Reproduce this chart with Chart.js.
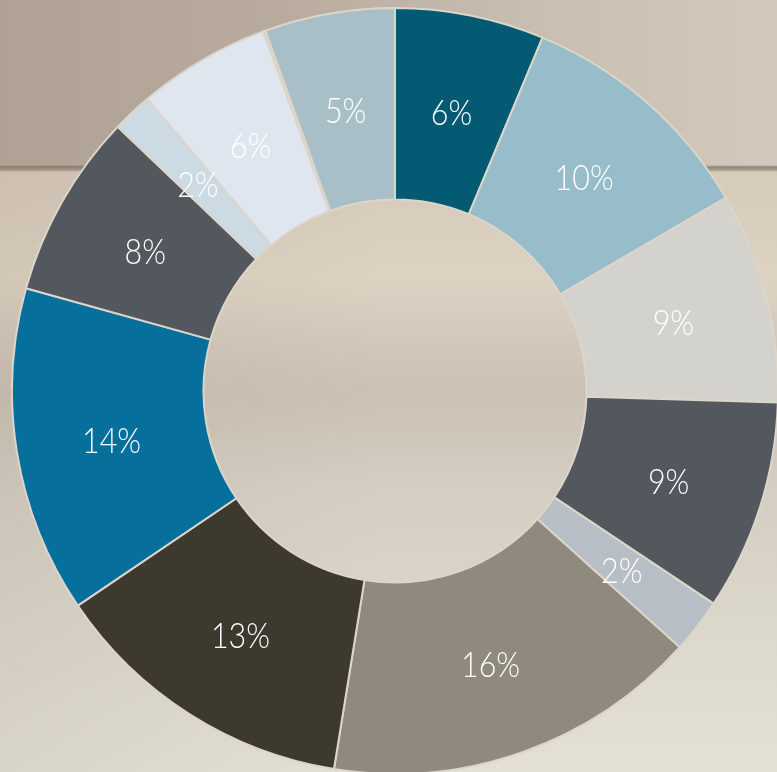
<!DOCTYPE html>
<html>
<head>
<meta charset="utf-8">
<script src="https://cdn.jsdelivr.net/npm/chart.js@4.4.1/dist/chart.umd.min.js"></script>
<style>
    html, body { margin: 0; padding: 0; width: 777px; height: 772px; overflow: hidden; }
    body {
        position: relative;
        background:
            linear-gradient(to bottom, transparent 0, transparent 165px, rgba(100, 88, 76, .6) 167px, rgba(110, 98, 86, .45) 170px, transparent 172px),
            linear-gradient(to right, #afa295 0%, #b8ab9e 35%, #c8beb1 70%, #d2c8bc 100%) 0 0 / 100% 167px no-repeat,
            linear-gradient(to right, rgba(85, 70, 55, .08) 0%, rgba(0, 0, 0, 0) 50%),
            linear-gradient(to bottom, #d6cab9 0px, #d6cab9 172px, #ddd2c2 280px, #cdc3b6 375px, #cbc1b4 395px, #d4cdc1 480px, #dcd7cb 620px, #e4e0d5 772px);
    }
    #wrap { position: absolute; left: 11px; top: 7px; width: 768px; height: 768px; }
</style>
</head>
<body>
<div id="wrap"><canvas id="chart" width="768" height="768"></canvas></div>
<script>
// slices clockwise from 12 o'clock, shares (percent)
const slices = ['S1', 'S2', 'S3', 'S4', 'S5', 'S6', 'S7', 'S8', 'S9', 'S10', 'S11', 'S12', 'S13']
const shares = [6.3, 10.3, 8.9, 8.9, 2.3, 15.9, 13.0, 13.8, 7.8, 1.7, 5.6, 0.1, 5.5]
// printed labels as shown on the chart
const shareLabels = ['6%', '10%', '9%', '9%', '2%', '16%', '13%', '14%', '8%', '2%', '6%', '', '5%']
const colors = ['#045a72', '#96bdc9', '#d4d2cd', '#52585e', '#b8bec6', '#8f897e', '#3d392f',
    '#066f9c', '#52585e', '#cbdae3', '#dfe6ef', '#d2cfc8', '#a9bfc7']

// draws the percentage text in the middle of each ring slice
// (text is squeezed a little sideways to get the narrow look of the original)
const sliceLabels = {
    id: 'sliceLabels',
    afterDatasetsDraw(chart) {
        const ctx = chart.ctx
        const arcs = chart.getDatasetMeta(0).data
        arcs.forEach((arc, i) => {
            if (!shareLabels[i]) return
            const p = arc.getProps(['x', 'y', 'startAngle', 'endAngle', 'innerRadius', 'outerRadius'], true)
            const mid = (p.startAngle + p.endAngle) / 2
            const r = (p.innerRadius + p.outerRadius) / 2
            ctx.save()
            ctx.translate(p.x + Math.cos(mid) * r, p.y + Math.sin(mid) * r + 4)
            ctx.scale(0.87, 1)
            ctx.fillStyle = '#ffffff'
            ctx.font = '300 35px Lato, Roboto, sans-serif'
            ctx.textAlign = 'center'
            ctx.textBaseline = 'middle'
            ctx.fillText(shareLabels[i], 0, 0)
            ctx.restore()
        })
    }
}

new Chart(document.getElementById('chart'), {
    type: 'doughnut',
    data: {
        labels: slices,
        datasets: [{
            data: shares,
            backgroundColor: colors,
            borderColor: '#dcd5ca',
            borderWidth: 2
        }]
    },
    options: {
        responsive: false,
        animation: false,
        cutout: '50%',
        layout: { padding: 0 },
        plugins: {
            legend: { display: false },
            tooltip: { enabled: false }
        }
    },
    plugins: [sliceLabels]
})
</script>
</body>
</html>
